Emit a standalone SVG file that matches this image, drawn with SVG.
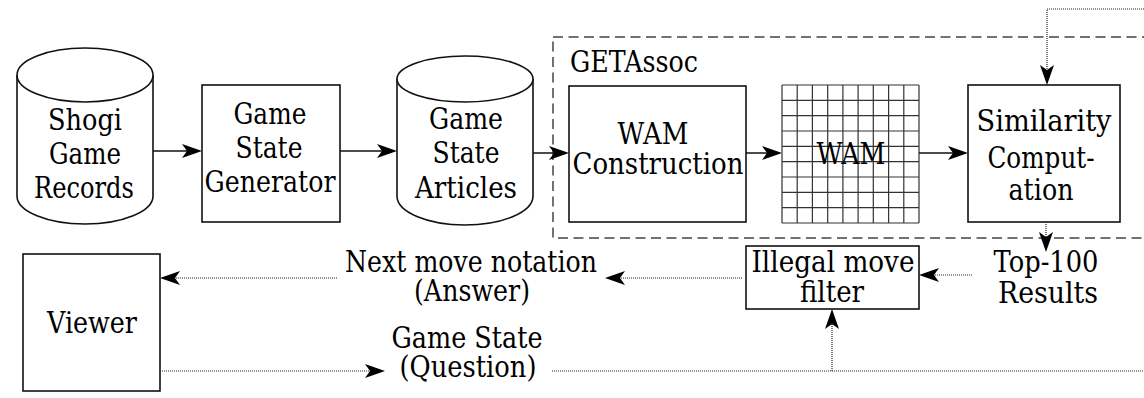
<svg xmlns="http://www.w3.org/2000/svg" width="1144" height="398" viewBox="0 0 1144 398">
<style>
  .box{fill:#fff;stroke:#111;stroke-width:1.6}
  .cyl{fill:#fff;stroke:#111;stroke-width:1.6}
  text{font-family:'DejaVu Serif','Liberation Serif',serif;font-size:29px;fill:#000}
  .t{text-anchor:middle}
  .solid{fill:none;stroke:#111;stroke-width:1.5}
  .dot{fill:none;stroke:#222;stroke-width:1.2;stroke-dasharray:1 1}
  .grid{fill:none;stroke:#333;stroke-width:1.2}
  .group{fill:none;stroke:#444;stroke-width:1.5;stroke-dasharray:10 5.5}
  .ah{fill:#000}
</style>
<rect width="1144" height="398" fill="#fff"/>

<g id="getassoc">
  <rect class="group" x="553" y="37" width="620" height="201"/>
  <text x="570" y="72" textLength="128" lengthAdjust="spacingAndGlyphs">GETAssoc</text>
</g>

<g id="shogi-records">
  <path class="cyl" d="M17,75 L17,196 A68,28 0 0 0 153,196 L153,75"/>
  <ellipse class="cyl" cx="85" cy="75" rx="68" ry="27"/>
  <text class="t" x="85" y="130" textLength="74" lengthAdjust="spacingAndGlyphs">Shogi</text>
  <text class="t" x="85" y="164" textLength="72" lengthAdjust="spacingAndGlyphs">Game</text>
  <text class="t" x="84" y="198" textLength="100" lengthAdjust="spacingAndGlyphs">Records</text>
</g>

<g id="state-generator">
  <rect class="box" x="202" y="85" width="138" height="137"/>
  <text class="t" x="270" y="124" textLength="73" lengthAdjust="spacingAndGlyphs">Game</text>
  <text class="t" x="269" y="158" textLength="67" lengthAdjust="spacingAndGlyphs">State</text>
  <text class="t" x="270" y="192" textLength="131" lengthAdjust="spacingAndGlyphs">Generator</text>
</g>

<g id="state-articles">
  <path class="cyl" d="M397,79 L397,196 A68,29 0 0 0 533,196 L533,79"/>
  <ellipse class="cyl" cx="465" cy="79" rx="68" ry="23"/>
  <text class="t" x="466" y="129" textLength="74" lengthAdjust="spacingAndGlyphs">Game</text>
  <text class="t" x="466" y="163" textLength="67" lengthAdjust="spacingAndGlyphs">State</text>
  <text class="t" x="466" y="198" textLength="102" lengthAdjust="spacingAndGlyphs">Articles</text>
</g>

<g id="wam-construction">
  <rect class="box" x="569" y="86" width="177" height="136"/>
  <text class="t" x="653" y="144" textLength="71" lengthAdjust="spacingAndGlyphs">WAM</text>
  <text class="t" x="658" y="174" textLength="171" lengthAdjust="spacingAndGlyphs">Construction</text>
</g>

<g id="wam">
  <path class="grid" d="M782,85 V223 M797.2,85 V223 M812.4,85 V223 M827.7,85 V223 M842.9,85 V223 M858.1,85 V223 M873.3,85 V223 M888.6,85 V223 M903.8,85 V223 M919,85 V223 M782,85 H919 M782,100.3 H919 M782,115.7 H919 M782,131 H919 M782,146.3 H919 M782,161.7 H919 M782,177 H919 M782,192.3 H919 M782,207.7 H919 M782,223 H919"/>
  <text class="t" x="851" y="164" textLength="69" lengthAdjust="spacingAndGlyphs">WAM</text>
</g>

<g id="similarity">
  <rect class="box" x="968" y="85" width="152" height="137"/>
  <text class="t" x="1044" y="131" textLength="135" lengthAdjust="spacingAndGlyphs">Similarity</text>
  <text class="t" x="1041" y="168" textLength="107" lengthAdjust="spacingAndGlyphs">Comput-</text>
  <text class="t" x="1041" y="200" textLength="65" lengthAdjust="spacingAndGlyphs">ation</text>
</g>

<g id="top100">
  <text class="t" x="1046" y="272" textLength="105" lengthAdjust="spacingAndGlyphs">Top-100</text>
  <text class="t" x="1048" y="303" textLength="100" lengthAdjust="spacingAndGlyphs">Results</text>
</g>

<g id="filter">
  <rect class="box" x="746" y="246" width="173" height="63"/>
  <text class="t" x="833" y="272" textLength="163" lengthAdjust="spacingAndGlyphs">Illegal move</text>
  <text class="t" x="832" y="302" textLength="64" lengthAdjust="spacingAndGlyphs">filter</text>
</g>

<g id="answer-label">
  <text class="t" x="471" y="272" textLength="252" lengthAdjust="spacingAndGlyphs">Next move notation</text>
  <text class="t" x="472" y="301" textLength="116" lengthAdjust="spacingAndGlyphs">(Answer)</text>
</g>

<g id="question-label">
  <text class="t" x="467" y="348" textLength="151" lengthAdjust="spacingAndGlyphs">Game State</text>
  <text class="t" x="468" y="377" textLength="137" lengthAdjust="spacingAndGlyphs">(Question)</text>
</g>

<g id="viewer">
  <rect class="box" x="23" y="254" width="137" height="137"/>
  <text class="t" x="92" y="333" textLength="90" lengthAdjust="spacingAndGlyphs">Viewer</text>
</g>

<g id="connectors">
  <path class="solid" d="M153,151 H190"/>
  <path class="ah" d="M202,151 l-20,-7 l5,7 l-5,7 Z"/>
  <path class="solid" d="M340,151 H385"/>
  <path class="ah" d="M397,151 l-20,-7 l5,7 l-5,7 Z"/>
  <path class="solid" d="M533,153 H557"/>
  <path class="ah" d="M569,153 l-20,-7 l5,7 l-5,7 Z"/>
  <path class="solid" d="M746,153 H770"/>
  <path class="ah" d="M782,153 l-20,-7 l5,7 l-5,7 Z"/>
  <path class="solid" d="M919,153 H956"/>
  <path class="ah" d="M968,153 l-20,-7 l5,7 l-5,7 Z"/>
  <path class="dot" d="M1144,9 H1047 V73"/>
  <path class="ah" d="M1047,85 l-7,-20 l7,5 l7,-5 Z"/>
  <path class="dot" d="M1046,222 V240"/>
  <path class="ah" d="M1046,252 l-7,-20 l7,5 l7,-5 Z"/>
  <path class="dot" d="M972,275 H931"/>
  <path class="ah" d="M919,275 l20,-7 l-5,7 l5,7 Z"/>
  <path class="dot" d="M742,278 H617"/>
  <path class="ah" d="M605,278 l20,-7 l-5,7 l5,7 Z"/>
  <path class="dot" d="M337,278 H172"/>
  <path class="ah" d="M160,278 l20,-7 l-5,7 l5,7 Z"/>
  <path class="dot" d="M160,371 H373"/>
  <path class="ah" d="M385,371 l-20,-7 l5,7 l-5,7 Z"/>
  <path class="dot" d="M552,371 H1144"/>
  <path class="dot" d="M832,371 V321"/>
  <path class="ah" d="M832,309 l-7,20 l7,-5 l7,5 Z"/>
</g>
</svg>
